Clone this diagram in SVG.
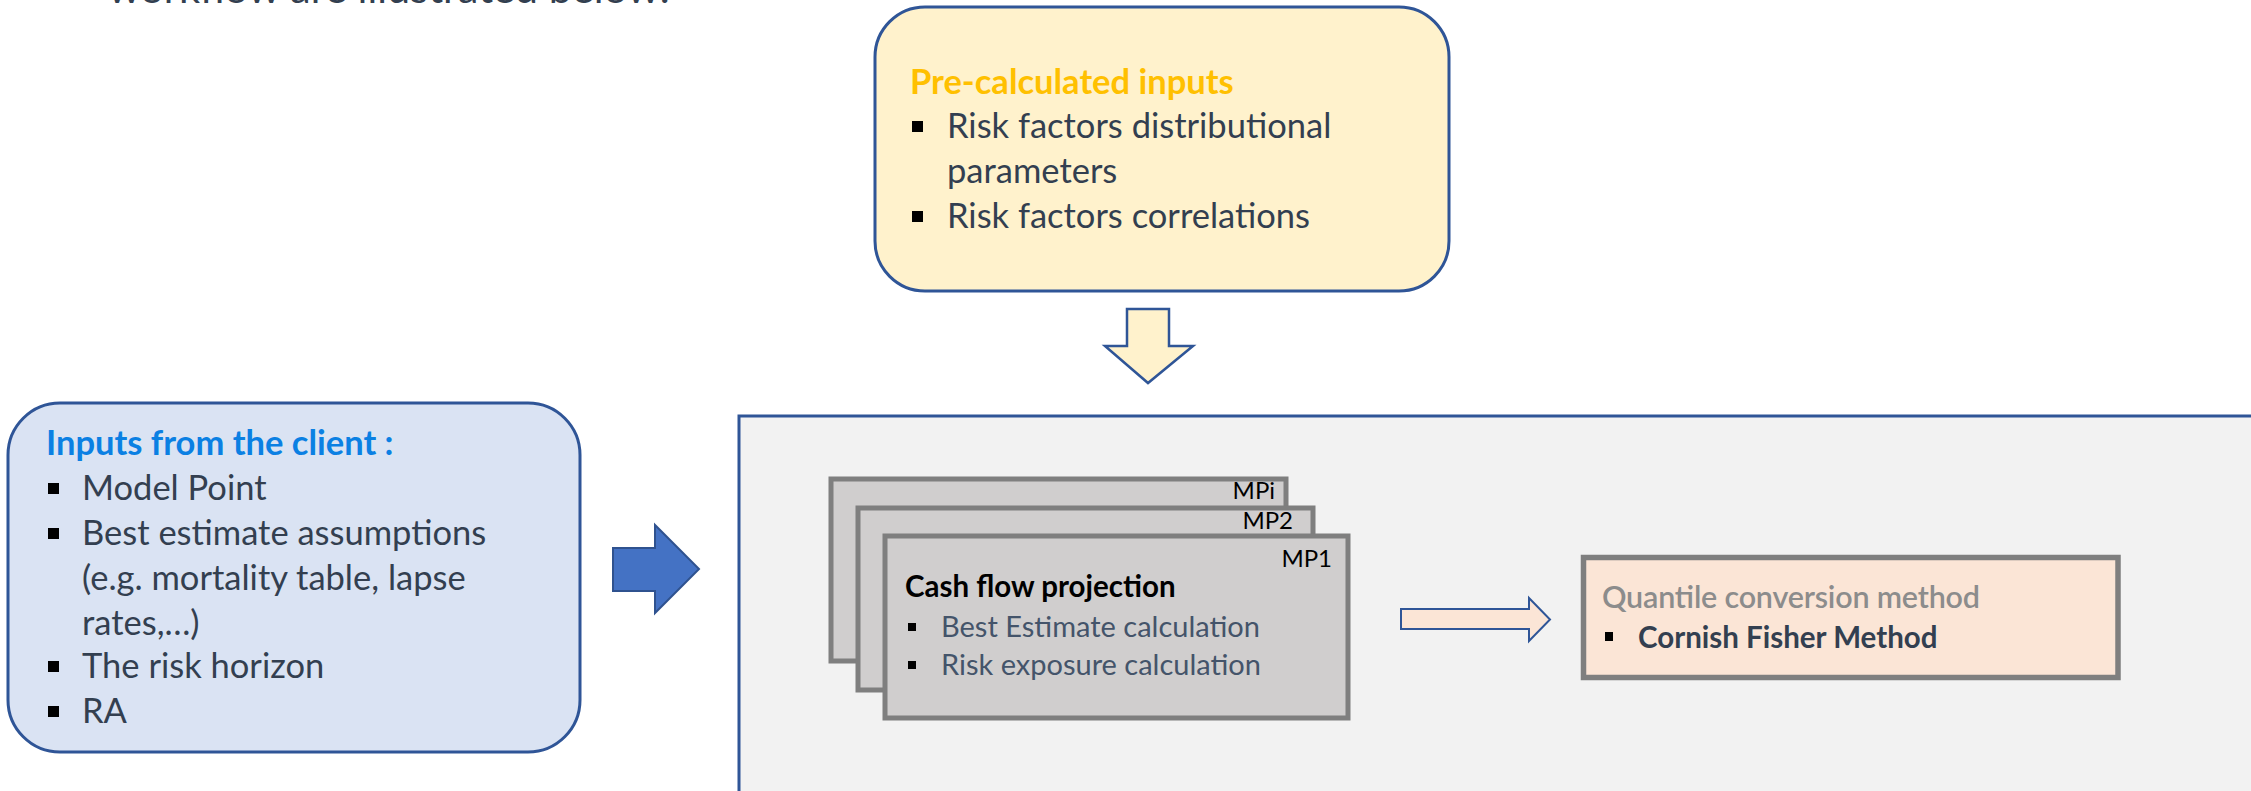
<svg xmlns="http://www.w3.org/2000/svg" width="2251" height="791" viewBox="0 0 2251 791">
<style>
  text { font-family: Lato, "Liberation Sans", sans-serif; }
  .body { font-size: 34.5px; fill: #333F50; }
  .title { font-size: 34.5px; font-weight: bold; }
  .mp { font-size: 24px; fill: #000000; text-anchor: end; }
  .mpbody { font-size: 29px; fill: #44546A; }
  .bul { fill: #000000; }
  .card { fill: #D0CECE; stroke: #7F7F7F; stroke-width: 5; }
</style>
<rect x="0" y="0" width="2251" height="791" fill="#FFFFFF"/>
<text x="108" y="3" style="font-size:41.5px;fill:#333F50">workflow are illustrated below:</text>

<g id="precalc">
  <rect x="875" y="7" width="574" height="284" rx="50" ry="50" fill="#FFF2CC" stroke="#2F5597" stroke-width="3"/>
  <text x="910" y="94" class="title" fill="#FFC000">Pre-calculated inputs</text>
  <rect x="912" y="121" width="11" height="11" class="bul"/>
  <text x="947" y="138" class="body">Risk factors distributional</text>
  <text x="947" y="183" class="body">parameters</text>
  <rect x="912" y="211" width="11" height="11" class="bul"/>
  <text x="947" y="228" class="body">Risk factors correlations</text>
</g>

<g id="client">
  <rect x="8" y="403" width="572" height="349" rx="52" ry="52" fill="#DAE3F3" stroke="#2F5597" stroke-width="3"/>
  <text x="46" y="455" class="title" fill="#0B80E3">Inputs from the client :</text>
  <rect x="48" y="483" width="11" height="11" class="bul"/>
  <text x="82" y="500" class="body">Model Point</text>
  <rect x="48" y="528" width="11" height="11" class="bul"/>
  <text x="82" y="545" class="body">Best estimate assumptions</text>
  <text x="82" y="590" class="body">(e.g. mortality table, lapse</text>
  <text x="82" y="635" class="body">rates,…)</text>
  <rect x="48" y="661" width="11" height="11" class="bul"/>
  <text x="82" y="678" class="body">The risk horizon</text>
  <rect x="48" y="706" width="11" height="11" class="bul"/>
  <text x="82" y="723" class="body">RA</text>
</g>

<g id="process">
  <rect x="739" y="416" width="1514" height="400" fill="#F2F2F2" stroke="#2F5597" stroke-width="3"/>
</g>

<g id="mpi">
  <rect x="831" y="479" width="455" height="182" class="card"/>
  <text x="1275" y="499" class="mp">MPi</text>
</g>
<g id="mp2">
  <rect x="858" y="508" width="455" height="182" class="card"/>
  <text x="1293" y="529" class="mp">MP2</text>
</g>
<g id="mp1">
  <rect x="885" y="536" width="463" height="182" class="card"/>
  <text x="1332" y="567" class="mp">MP1</text>
  <text x="905" y="597" style="font-size:29.5px;font-weight:bold;fill:#000000">Cash flow projection</text>
  <rect x="908" y="623" width="8" height="8" class="bul"/>
  <text x="941" y="637" class="mpbody">Best Estimate calculation</text>
  <rect x="908" y="661" width="8" height="8" class="bul"/>
  <text x="941" y="675" class="mpbody">Risk exposure calculation</text>
</g>

<g id="quantile">
  <rect x="1583.5" y="557.5" width="534.5" height="120" fill="#FBE5D6" stroke="#7F7F7F" stroke-width="5.5"/>
  <text x="1602" y="608" textLength="378" lengthAdjust="spacing" style="font-size:30.5px;font-weight:600;fill:#8C8C8C">Quantile conversion method</text>
  <rect x="1605" y="632" width="8" height="9" class="bul"/>
  <text x="1638" y="648" style="font-size:29.5px;font-weight:bold;fill:#333F50">Cornish Fisher Method</text>
</g>

<g id="connectors">
  <path d="M1127,309 L1169,309 L1169,346 L1193,346 L1148,383 L1105,346 L1127,346 Z" fill="#FFF2CC" stroke="#2F5597" stroke-width="2.5" stroke-linejoin="miter"/>
  <path d="M613,548 L655,548 L655,525 L699,569 L655,613 L655,591 L613,591 Z" fill="#4472C4" stroke="#2F528F" stroke-width="2"/>
  <path d="M1401,609 L1529,609 L1529,598 L1550,619.5 L1529,641 L1529,629 L1401,629 Z" fill="#FBE5D6" stroke="#2F5597" stroke-width="2"/>
</g>
</svg>
